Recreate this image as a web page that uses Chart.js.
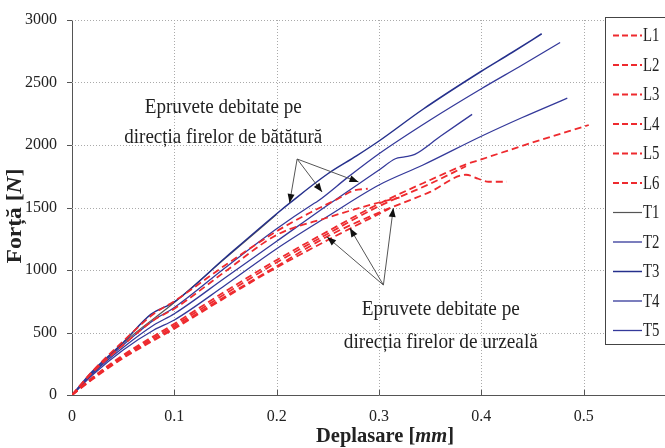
<!DOCTYPE html>
<html><head><meta charset="utf-8">
<script src="https://cdn.jsdelivr.net/npm/chart.js@4"></script>
<style>
html,body{margin:0;padding:0;overflow:hidden;background:#fff;width:665px;height:448px}
#wrap{position:absolute;left:0;top:0;width:700px;height:448px}
</style>
</head><body><div id="wrap"><canvas id="c" width="700" height="448"></canvas></div>
<script>
// ---- data (displacement in mm, force in N) ----
const L1_disp  = [0, 0.02, 0.05, 0.1, 0.15, 0.2, 0.25, 0.3, 0.35, 0.385, 0.4, 0.45, 0.505];
const L1_force = [0, 140, 320, 570, 830, 1080, 1310, 1530, 1720, 1845, 1885, 2020, 2160];
const L2_disp  = [0, 0.02, 0.05, 0.1, 0.15, 0.2, 0.25, 0.3, 0.35, 0.385];
const L2_force = [0, 135, 310, 555, 810, 1060, 1290, 1510, 1690, 1830];
const L3_disp  = [0, 0.02, 0.05, 0.1, 0.15, 0.2, 0.25, 0.3, 0.35, 0.385, 0.397, 0.407, 0.425];
const L3_force = [0, 130, 300, 540, 790, 1030, 1270, 1460, 1625, 1762, 1730, 1706, 1706];
const L4_disp  = [0, 0.02, 0.05, 0.08, 0.1, 0.15, 0.2, 0.233, 0.26, 0.275, 0.289];
const L4_force = [0, 190, 430, 650, 750, 1040, 1310, 1460, 1570, 1635, 1650];
const L5_disp  = [0, 0.02, 0.05, 0.08, 0.1, 0.15, 0.2, 0.25, 0.3, 0.32];
const L5_force = [0, 180, 400, 600, 690, 990, 1280, 1420, 1540, 1580];
const L6_disp  = [0, 0.02, 0.05, 0.1, 0.15, 0.2, 0.25, 0.31];
const L6_force = [0, 125, 295, 530, 780, 1020, 1240, 1490];

const T1_disp  = [0, 0.05, 0.1, 0.15, 0.2];
const T1_force = [0, 415, 740, 1095, 1445];
const T2_disp  = [0, 0.02, 0.05, 0.08, 0.1, 0.15, 0.2, 0.236, 0.24, 0.27, 0.3, 0.35, 0.4, 0.44, 0.477];
const T2_force = [0, 180, 400, 600, 700, 1020, 1330, 1530, 1550, 1745, 1930, 2200, 2450, 2640, 2820];
const T3_disp  = [0, 0.02, 0.05, 0.077, 0.1, 0.15, 0.2, 0.213, 0.25, 0.278, 0.3, 0.343, 0.4, 0.43, 0.459];
const T3_force = [0, 190, 420, 645, 745, 1100, 1450, 1537, 1770, 1913, 2032, 2286, 2590, 2740, 2890];
const T4_disp  = [0, 0.02, 0.05, 0.08, 0.1, 0.15, 0.2, 0.25, 0.3, 0.316, 0.325, 0.335, 0.36, 0.391];
const T4_force = [0, 170, 380, 560, 650, 940, 1230, 1520, 1800, 1890, 1905, 1925, 2070, 2245];
const T5_disp  = [0, 0.02, 0.05, 0.08, 0.1, 0.15, 0.2, 0.25, 0.3, 0.343, 0.4, 0.44, 0.484];
const T5_force = [0, 160, 360, 520, 600, 880, 1170, 1430, 1680, 1840, 2070, 2220, 2375];

const X_TICKS = [0, 0.1, 0.2, 0.3, 0.4, 0.5, 0.6];
const Y_TICKS = [0, 500, 1000, 1500, 2000, 2500, 3000];
const LEGEND_LABELS = ['L1','L2','L3','L4','L5','L6','T1','T2','T3','T4','T5'];

const NOTE_TOP = ['Epruvete debitate pe', 'direcția firelor de bătătură'];
const NOTE_BOTTOM = ['Epruvete debitate pe', 'direcția firelor de urzeală'];
// arrow anchors in data coordinates [disp, force]
const ARROW_TOP_FROM = [0.220, 1888];
const ARROW_TOP_TO = [[0.2126, 1536], [0.2444, 1624], [0.280, 1704]];
const ARROW_BOT_FROM = [0.3043, 880];
const ARROW_BOT_TO = [[0.2493, 1264], [0.2715, 1336], [0.314, 1496]];
const NOTE_TOP_POS = [0.1478, 2304, 2064];
const NOTE_BOT_POS = [0.3604, 688, 424];

// ---- styles ----
const RED = '#ee2a2e';
const BLUE = '#34399a';
const NAVY = '#25308c';
const GRAY = '#555555';

function pts(xs, ys){ return xs.map((x,i)=>({x:x, y:ys[i]})); }
function redSet(label, xs, ys){
  return {label, data:pts(xs,ys), borderColor:RED, borderDash:[7,4], borderWidth:1.8,
          pointRadius:0, fill:false, cubicInterpolationMode:'monotone', order:0};
}
function blueSet(label, xs, ys, color, w, order){
  return {label, data:pts(xs,ys), borderColor:color, borderWidth:w,
          pointRadius:0, fill:false, cubicInterpolationMode:'monotone', order:order};
}
const datasets = [
  redSet('L1', L1_disp, L1_force), redSet('L2', L2_disp, L2_force),
  redSet('L3', L3_disp, L3_force), redSet('L4', L4_disp, L4_force),
  redSet('L5', L5_disp, L5_force), redSet('L6', L6_disp, L6_force),
  blueSet('T1', T1_disp, T1_force, GRAY, 1.2, 10),
  blueSet('T2', T2_disp, T2_force, BLUE, 1.3, 5),
  blueSet('T3', T3_disp, T3_force, NAVY, 1.5, 5),
  blueSet('T4', T4_disp, T4_force, BLUE, 1.3, 5),
  blueSet('T5', T5_disp, T5_force, BLUE, 1.3, 5)
];
const legendStyle = datasets.map(d=>({color:d.borderColor, dash:d.borderDash||[], w:d.borderWidth}));

function fitText(ctx, parts, cx, cy, target, fixedScale){
  let w = 0;
  parts.forEach(p=>{ ctx.font = p.font; p.w = ctx.measureText(p.t).width; w += p.w; });
  const s = fixedScale || (target / w);
  ctx.save();
  ctx.translate(cx, cy);
  ctx.scale(s, 1);
  ctx.textBaseline = 'middle';
  ctx.textAlign = 'left';
  let x = -w/2;
  parts.forEach(p=>{ ctx.font = p.font; ctx.fillText(p.t, x, 0); x += p.w; });
  ctx.restore();
}

function arrow(ctx, x0, y0, x1, y1){
  ctx.beginPath(); ctx.moveTo(x0,y0); ctx.lineTo(x1,y1); ctx.stroke();
  const a = Math.atan2(y1-y0, x1-x0), L = 9, H = 3.5;
  ctx.beginPath();
  ctx.moveTo(x1, y1);
  ctx.lineTo(x1 - L*Math.cos(a) + H*Math.sin(a), y1 - L*Math.sin(a) - H*Math.cos(a));
  ctx.lineTo(x1 - L*Math.cos(a) - H*Math.sin(a), y1 - L*Math.sin(a) + H*Math.cos(a));
  ctx.closePath(); ctx.fill();
}

const deco = {
  id:'deco',
  beforeDatasetsDraw(chart){
    const {ctx, chartArea:a, scales:{x, y}} = chart;
    ctx.save();
    ctx.lineWidth = 1; ctx.strokeStyle = '#aaaaaa'; ctx.setLineDash([1,2]);
    X_TICKS.forEach(v=>{ if(v===0) return; const p = Math.round(x.getPixelForValue(v))+0.5;
      ctx.beginPath(); ctx.moveTo(p, a.top); ctx.lineTo(p, a.bottom); ctx.stroke(); });
    Y_TICKS.forEach(v=>{ if(v===0) return; const p = Math.round(y.getPixelForValue(v))+0.5;
      ctx.beginPath(); ctx.moveTo(a.left, p); ctx.lineTo(a.right, p); ctx.stroke(); });
    ctx.setLineDash([]); ctx.strokeStyle = '#555';
    X_TICKS.forEach(v=>{ const p = Math.round(x.getPixelForValue(v))+0.5;
      ctx.beginPath(); ctx.moveTo(p, a.bottom); ctx.lineTo(p, a.bottom-5); ctx.stroke(); });
    Y_TICKS.forEach(v=>{ const p = Math.round(y.getPixelForValue(v))+0.5;
      ctx.beginPath(); ctx.moveTo(a.left-5, p); ctx.lineTo(a.left, p); ctx.stroke(); });
    ctx.restore();
  },
  afterDatasetsDraw(chart){
    const {ctx, scales:{x, y}} = chart;
    ctx.save();
    ctx.strokeStyle = '#555'; ctx.fillStyle = '#111'; ctx.lineWidth = 1;
    const drawGroup = (from, tos)=>{
      const fx = x.getPixelForValue(from[0]), fy = y.getPixelForValue(from[1]);
      tos.forEach(t=> arrow(ctx, fx, fy, x.getPixelForValue(t[0]), y.getPixelForValue(t[1])));
    };
    drawGroup(ARROW_TOP_FROM, ARROW_TOP_TO);
    drawGroup(ARROW_BOT_FROM, ARROW_BOT_TO);
    ctx.fillStyle = '#222';
    const F = '22px "Liberation Serif"';
    fitText(ctx, [{t:NOTE_TOP[0], font:F}], x.getPixelForValue(NOTE_TOP_POS[0]), y.getPixelForValue(NOTE_TOP_POS[1]), 157);
    fitText(ctx, [{t:NOTE_TOP[1], font:F}], x.getPixelForValue(NOTE_TOP_POS[0]), y.getPixelForValue(NOTE_TOP_POS[2]), 198);
    fitText(ctx, [{t:NOTE_BOTTOM[0], font:F}], x.getPixelForValue(NOTE_BOT_POS[0]), y.getPixelForValue(NOTE_BOT_POS[1]), 158);
    fitText(ctx, [{t:NOTE_BOTTOM[1], font:F}], x.getPixelForValue(NOTE_BOT_POS[0]), y.getPixelForValue(NOTE_BOT_POS[2]), 194);
    ctx.restore();
  },
  afterDraw(chart){
    const ctx = chart.ctx;
    ctx.save();
    // legend
    ctx.fillStyle = '#fff'; ctx.fillRect(605.5, 17.5, 120, 327);
    ctx.strokeStyle = '#444'; ctx.lineWidth = 1; ctx.strokeRect(605.5, 17.5, 120, 327);
    LEGEND_LABELS.forEach((lab, i)=>{
      const yy = 35.5 + i*29.5;
      const st = legendStyle[i];
      ctx.strokeStyle = st.color; ctx.lineWidth = st.w; ctx.setLineDash(st.dash.length ? [6,3] : []);
      ctx.beginPath(); ctx.moveTo(613, yy); ctx.lineTo(642, yy); ctx.stroke();
      ctx.setLineDash([]);
      ctx.fillStyle = '#222';
      ctx.font = '18px "Liberation Serif"';
      ctx.save(); ctx.translate(643, yy+1); ctx.scale(0.82, 1);
      ctx.textBaseline = 'middle'; ctx.textAlign = 'left';
      ctx.fillText(lab, 0, 0); ctx.restore();
    });
    // axis titles
    ctx.fillStyle = '#222';
    fitText(ctx, [{t:'Deplasare [', font:'bold 20px "Liberation Serif"'},
                  {t:'mm', font:'italic bold 20px "Liberation Serif"'},
                  {t:']', font:'bold 20px "Liberation Serif"'}], 385, 437, 138);
    ctx.save(); ctx.translate(16, 216); ctx.rotate(-Math.PI/2);
    fitText(ctx, [{t:'Forță [', font:'bold 21px "Liberation Serif"'},
                  {t:'N', font:'italic bold 21px "Liberation Serif"'},
                  {t:']', font:'bold 21px "Liberation Serif"'}], 0, 0, 95);
    ctx.restore();
    ctx.restore();
  }
};

new Chart(document.getElementById('c'), {
  type:'line',
  data:{datasets},
  options:{
    responsive:false, animation:false, devicePixelRatio:1,
    layout:{padding:{left:0, top:20, right:7, bottom:0}},
    plugins:{legend:{display:false}, tooltip:{enabled:false}},
    elements:{line:{borderCapStyle:'butt'}},
    scales:{
      x:{type:'linear', min:0, max:0.6,
         afterBuildTicks:(s)=>{ s.ticks = X_TICKS.map(v=>({value:v})); },
         afterFit:(s)=>{ s.height = 53; },
         grid:{display:false}, border:{display:true, color:'#555', width:1},
         ticks:{padding:4, color:'#222', font:{family:'Liberation Serif', size:16},
                maxRotation:0, autoSkip:false, callback:(v)=> String(v)}},
      y:{type:'linear', min:0, max:3000,
         afterBuildTicks:(s)=>{ s.ticks = Y_TICKS.map(v=>({value:v})); },
         afterFit:(s)=>{ s.width = 72; },
         grid:{display:false}, border:{display:true, color:'#555', width:1},
         ticks:{padding:7, color:'#222', font:{family:'Liberation Serif', size:16},
                callback:(v)=> String(v)}}
    }
  },
  plugins:[deco]
});
</script>
</body></html>
